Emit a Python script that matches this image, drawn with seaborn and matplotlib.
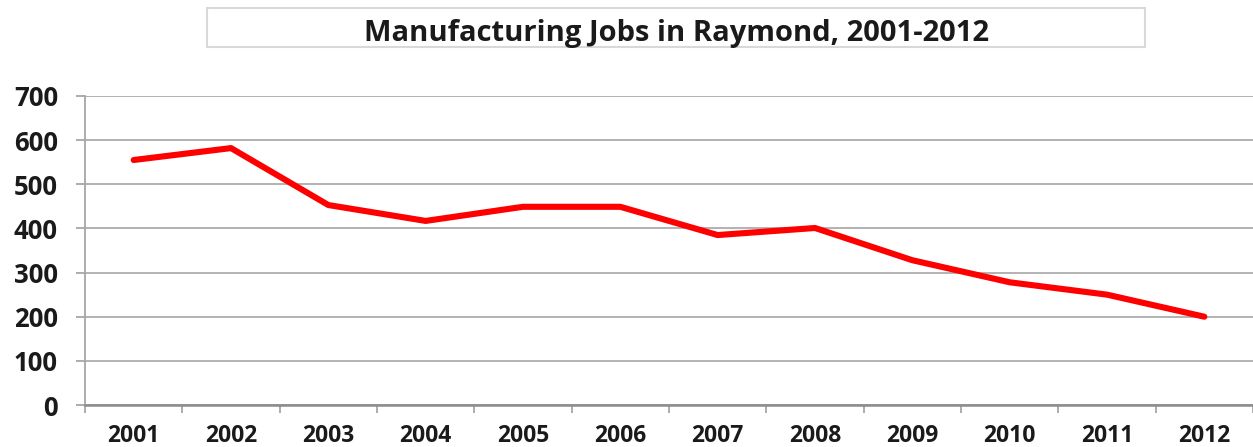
import matplotlib
matplotlib.use("Agg")
import matplotlib.pyplot as plt
import seaborn as sns
import pandas as pd
import numpy as np
from matplotlib.patches import Rectangle

years = ["2001", "2002", "2003", "2004", "2005", "2006",
         "2007", "2008", "2009", "2010", "2011", "2012"]
jobs = [555, 582, 453, 417, 449, 449, 385, 401, 328, 278, 250, 200]
yticks = [0, 100, 200, 300, 400, 500, 600, 700]
title = "Manufacturing Jobs in Raymond, 2001-2012"

sns.set_theme(style="white")
plt.rcParams["font.family"] = ["Open Sans", "DejaVu Sans"]

df = pd.DataFrame({"year": years, "jobs": jobs})

fig = plt.figure(figsize=(12.53, 4.47), dpi=100)
ax = fig.add_axes([85 / 1253, 1 - 405 / 447, 1 - 85 / 1253, (405 - 96) / 447])

sns.lineplot(data=df, x="year", y="jobs", ax=ax, color="#FF0000",
             linewidth=4.4, sort=False)
ax.lines[0].set_solid_capstyle("round")
ax.lines[0].set_solid_joinstyle("round")

ax.set_xlim(-0.5, len(years) - 0.5)
ax.set_ylim(0, 700)
ax.set_yticks(yticks)
ax.set_yticklabels([str(v) for v in yticks])
ax.set_xlabel("")
ax.set_ylabel("")

grid_c = "#A6A6A6"
ax.yaxis.grid(True, color=grid_c, linewidth=1.2)
ax.xaxis.grid(False)
for s in ["top", "right"]:
    ax.spines[s].set_visible(False)
ax.spines["left"].set_color(grid_c)
ax.spines["left"].set_linewidth(1.3)
ax.spines["bottom"].set_color("#8C8C8C")
ax.spines["bottom"].set_linewidth(1.8)
ax.set_axisbelow(True)

# x ticks between categories
ax.set_xticks(np.arange(len(years)))
ax.set_xticklabels(years)
ax.set_xticks(np.arange(len(years) + 1) - 0.5, minor=True)
ax.tick_params(axis="x", which="major", length=0, pad=14, labelsize=16.5)
ax.tick_params(axis="x", which="minor", length=6, width=1.3, color=grid_c, bottom=True)
ax.tick_params(axis="y", which="major", length=6.5, width=1.3, color=grid_c, left=True,
               pad=13, labelsize=18.5)
for lab in ax.get_xticklabels() + ax.get_yticklabels():
    lab.set_fontweight("bold")
    lab.set_color("#1a1a1a")

fig.patches.append(Rectangle((207 / 1253, 1 - 47 / 447), (1145 - 207) / 1253, 39 / 447,
                             transform=fig.transFigure, facecolor="white",
                             edgecolor="#D9D9D9", linewidth=1.5))
fig.text(676 / 1253, 1 - 33 / 447, title, ha="center", va="center",
         fontsize=21, fontweight="bold", color="#1a1a1a")

fig.savefig("out.png", dpi=100)
